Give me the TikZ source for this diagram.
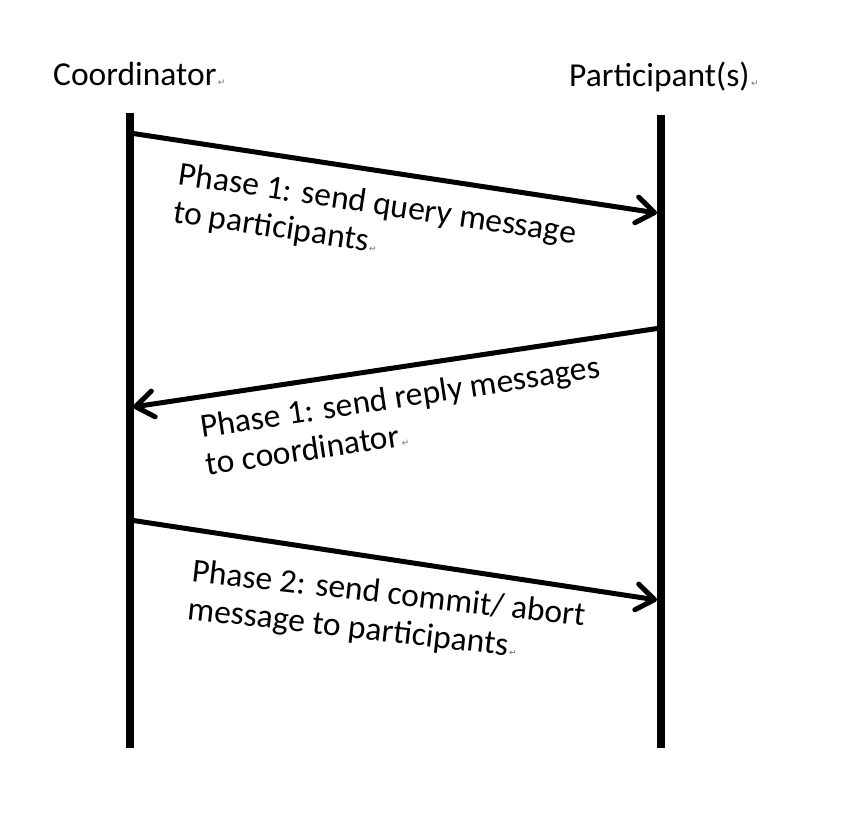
\documentclass[tikz,border=0pt]{standalone}
\usepackage{fontspec}
\setmainfont{Carlito}
\newfontfamily\marksymfont{DejaVu Sans}
\usetikzlibrary{arrows.meta}
\newcommand\retmark{{\marksymfont\fontsize{9}{9}\selectfont\color{black!55}\,↵}}
\begin{document}
\begin{tikzpicture}[x=1pt,y=-1pt,
  lifeline/.style={line width=8pt},
  msg/.style={line width=5pt,-{Straight Barb[length=18pt,width=26pt,round]}},
  msglabel/.style={font=\fontsize{33.5}{38}\selectfont,align=left,anchor=base west,inner sep=0pt},
  headlabel/.style={font=\fontsize{33.5}{40}\selectfont,anchor=base west,inner sep=0pt}]
\useasboundingbox[fill=white] (0,0) rectangle (850,826);

% headers
\node[headlabel] (coord) at (53,86) {Coordinator\retmark};
\node[headlabel] (part) at (569,87) {Participant(s)\retmark};

% lifelines
\coordinate (ctop) at (130,113);
\coordinate (cbot) at (130,748);
\coordinate (ptop) at (660.5,115);
\coordinate (pbot) at (660.5,748);
\draw[lifeline] (ctop) -- (cbot);
\draw[lifeline] (ptop) -- (pbot);

% message end points
\coordinate (c1) at (130,133);
\coordinate (p1) at (657,213);
\coordinate (p2) at (660.5,328);
\coordinate (c2) at (133,407);
\coordinate (c3) at (130,520);
\coordinate (p3) at (657,600);

\draw[msg] (c1) -- (p1);
\draw[msg] (p2) -- (c2);
\draw[msg] (c3) -- (p3);

% labels (anchor = baseline of the last line)
\node[msglabel,rotate=-8.5] (l1) at (172,222) {Phase 1: send query message\\to participants\retmark};
\node[msglabel,rotate=8.6] (l2) at (207.5,475.5) {Phase 1: send reply messages\\to coordinator\retmark};
\node[msglabel,rotate=-6.5] (l3) at (186.5,619) {Phase 2: send commit/ abort\\message to participants\retmark};
\end{tikzpicture}
\end{document}
